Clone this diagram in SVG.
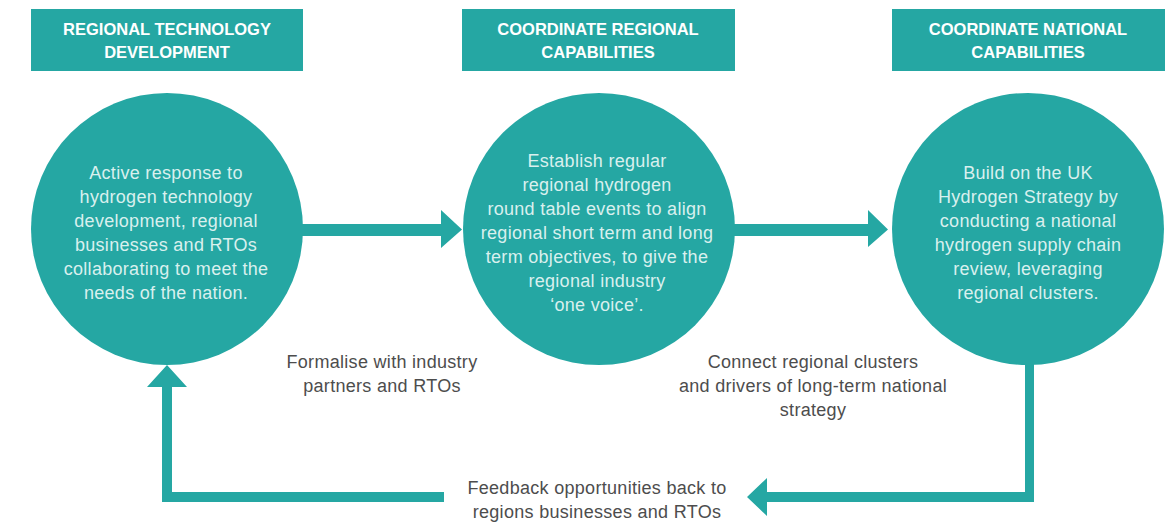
<svg xmlns="http://www.w3.org/2000/svg" width="1170" height="522" viewBox="0 0 1170 522">
<style>
.box{fill:#25a7a3}
.circ{fill:#25a7a3}
.hd{font-family:"Liberation Sans",Arial,sans-serif;font-weight:bold;font-size:16.5px;fill:#ffffff;text-anchor:middle}
.ct{font-family:"Liberation Sans",Arial,sans-serif;font-size:18px;letter-spacing:0.3px;fill:#d9f0ee;text-anchor:middle}
.lb{font-family:"Liberation Sans",Arial,sans-serif;font-size:18px;letter-spacing:0.3px;fill:#4d4d4d;text-anchor:middle}
.ln{fill:#25a7a3}
</style>
<rect width="1170" height="522" fill="#ffffff"/>
<g id="node1">
<rect class="box" x="31" y="9" width="272" height="62"/>
<text class="hd" x="167" y="35">REGIONAL TECHNOLOGY</text>
<text class="hd" x="167" y="58">DEVELOPMENT</text>
<circle class="circ" cx="167" cy="229" r="136"/>
<text class="ct" x="166" y="179">Active response to</text>
<text class="ct" x="166" y="203">hydrogen technology</text>
<text class="ct" x="166" y="227">development, regional</text>
<text class="ct" x="166" y="251">businesses and RTOs</text>
<text class="ct" x="166" y="275">collaborating to meet the</text>
<text class="ct" x="166" y="299">needs of the nation.</text>
</g>
<g id="node2">
<rect class="box" x="462" y="9" width="273" height="62"/>
<text class="hd" x="598" y="35">COORDINATE REGIONAL</text>
<text class="hd" x="598" y="58">CAPABILITIES</text>
<circle class="circ" cx="599" cy="229" r="136"/>
<text class="ct" x="597" y="167">Establish regular</text>
<text class="ct" x="597" y="191">regional hydrogen</text>
<text class="ct" x="597" y="215">round table events to align</text>
<text class="ct" x="597" y="239">regional short term and long</text>
<text class="ct" x="597" y="263">term objectives, to give the</text>
<text class="ct" x="597" y="287">regional industry</text>
<text class="ct" x="597" y="311">‘one voice’.</text>
</g>
<g id="node3">
<rect class="box" x="892" y="9" width="273" height="62"/>
<text class="hd" x="1028" y="35">COORDINATE NATIONAL</text>
<text class="hd" x="1028" y="58">CAPABILITIES</text>
<circle class="circ" cx="1028" cy="229" r="136"/>
<text class="ct" x="1028" y="179">Build on the UK</text>
<text class="ct" x="1028" y="203">Hydrogen Strategy by</text>
<text class="ct" x="1028" y="227">conducting a national</text>
<text class="ct" x="1028" y="251">hydrogen supply chain</text>
<text class="ct" x="1028" y="275">review, leveraging</text>
<text class="ct" x="1028" y="299">regional clusters.</text>
</g>
<g id="connectors">
<polygon class="ln" points="300,224 441,224 441,210 462,229.5 441,248 441,236 300,236"/>
<polygon class="ln" points="732,224 868,224 868,210 888,229.5 868,247 868,236 732,236"/>
<polygon class="ln" points="1025,360 1034,360 1034,502 767,502 767,516 747,497 767,478 767,492 1025,492"/>
<polygon class="ln" points="444,492 444,502 162,502 162,387 147,387 167,365 187,387 172,387 172,492"/>
</g>
<g id="labels">
<text class="lb" x="382" y="368">Formalise with industry</text>
<text class="lb" x="382" y="392">partners and RTOs</text>
<text class="lb" x="813" y="368">Connect regional clusters</text>
<text class="lb" x="813" y="392">and drivers of long-term national</text>
<text class="lb" x="813" y="416">strategy</text>
<text class="lb" x="597" y="494">Feedback opportunities back to</text>
<text class="lb" x="597" y="518">regions businesses and RTOs</text>
</g>
</svg>
